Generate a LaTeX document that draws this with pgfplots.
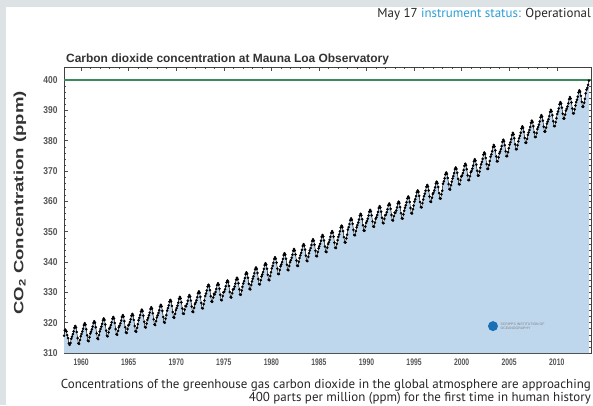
\documentclass[border=0pt]{standalone}
\usepackage{graphicx}
\usepackage{pgfplots}
\pgfplotsset{compat=1.18}
\usepackage{pgfplotstable}
\usepackage{fontspec}
\setmainfont{PT Sans}
\newfontfamily\arial{Liberation Sans}

\definecolor{bggray}{HTML}{DDE2E4}
\definecolor{fillblue}{HTML}{BFD7EC}
\definecolor{limitgreen}{HTML}{3A8A5A}
\definecolor{linkblue}{HTML}{2A9FD6}
\definecolor{labgray}{HTML}{555555}
\definecolor{titlegray}{HTML}{333333}
\definecolor{logoblue}{HTML}{1B6FB5}

% monthly means, Mauna Loa
\pgfplotstableread[row sep=\\]{
t co2\\
1958.21 315.7\\ 1958.29 317.5\\ 1958.38 317.5\\ 1958.46 317.1\\ 1958.54 315.9\\ 1958.63 314.9\\ 1958.71 313.2\\ 1958.79 312.7\\ 1958.88 313.3\\ 1958.96 314.7\\
1959.04 315.4\\ 1959.13 316.2\\ 1959.21 317.1\\ 1959.29 318.3\\ 1959.38 318.9\\ 1959.46 318.4\\ 1959.54 316.9\\ 1959.63 314.9\\ 1959.71 313.2\\ 1959.79 313.0\\ 1959.88 314.3\\ 1959.96 315.5\\
1960.04 316.3\\ 1960.13 317.1\\ 1960.21 318.0\\ 1960.29 319.2\\ 1960.38 319.8\\ 1960.46 319.3\\ 1960.54 317.8\\ 1960.63 315.8\\ 1960.71 314.1\\ 1960.79 313.9\\ 1960.88 315.2\\ 1960.96 316.4\\
1961.04 317.0\\ 1961.13 317.8\\ 1961.21 318.7\\ 1961.29 319.9\\ 1961.38 320.5\\ 1961.46 320.0\\ 1961.54 318.5\\ 1961.63 316.5\\ 1961.71 314.8\\ 1961.79 314.6\\ 1961.88 315.9\\ 1961.96 317.1\\
1962.04 317.9\\ 1962.13 318.7\\ 1962.21 319.6\\ 1962.29 320.8\\ 1962.38 321.4\\ 1962.46 320.9\\ 1962.54 319.4\\ 1962.63 317.4\\ 1962.71 315.7\\ 1962.79 315.5\\ 1962.88 316.8\\ 1962.96 318.0\\
1963.04 318.4\\ 1963.13 319.2\\ 1963.21 320.1\\ 1963.29 321.3\\ 1963.38 321.9\\ 1963.46 321.4\\ 1963.54 319.9\\ 1963.63 317.9\\ 1963.71 316.2\\ 1963.79 316.0\\ 1963.88 317.3\\ 1963.96 318.5\\
1964.04 319.0\\ 1964.13 319.8\\ 1964.21 320.7\\ 1964.29 321.9\\ 1964.38 322.5\\ 1964.46 322.0\\ 1964.54 320.5\\ 1964.63 318.5\\ 1964.71 316.8\\ 1964.79 316.6\\ 1964.88 317.9\\ 1964.96 319.1\\
1965.04 319.4\\ 1965.13 320.2\\ 1965.21 321.1\\ 1965.29 322.3\\ 1965.38 322.9\\ 1965.46 322.4\\ 1965.54 320.9\\ 1965.63 318.9\\ 1965.71 317.2\\ 1965.79 317.0\\ 1965.88 318.3\\ 1965.96 319.5\\
1966.04 320.8\\ 1966.13 321.6\\ 1966.21 322.5\\ 1966.29 323.7\\ 1966.38 324.3\\ 1966.46 323.8\\ 1966.54 322.3\\ 1966.63 320.3\\ 1966.71 318.6\\ 1966.79 318.4\\ 1966.88 319.7\\ 1966.96 320.9\\
1967.04 321.6\\ 1967.13 322.4\\ 1967.21 323.3\\ 1967.29 324.5\\ 1967.38 325.1\\ 1967.46 324.6\\ 1967.54 323.1\\ 1967.63 321.1\\ 1967.71 319.4\\ 1967.79 319.2\\ 1967.88 320.5\\ 1967.96 321.7\\
1968.04 322.4\\ 1968.13 323.2\\ 1968.21 324.1\\ 1968.29 325.3\\ 1968.38 325.9\\ 1968.46 325.4\\ 1968.54 323.9\\ 1968.63 321.9\\ 1968.71 320.2\\ 1968.79 320.0\\ 1968.88 321.3\\ 1968.96 322.5\\
1969.04 324.0\\ 1969.13 324.8\\ 1969.21 325.7\\ 1969.29 326.9\\ 1969.38 327.5\\ 1969.46 327.0\\ 1969.54 325.5\\ 1969.63 323.5\\ 1969.71 321.8\\ 1969.79 321.6\\ 1969.88 322.9\\ 1969.96 324.1\\
1970.04 324.8\\ 1970.13 325.6\\ 1970.21 326.6\\ 1970.29 327.9\\ 1970.38 328.5\\ 1970.46 328.0\\ 1970.54 326.7\\ 1970.63 324.7\\ 1970.71 323.0\\ 1970.79 322.9\\ 1970.88 324.3\\ 1970.96 325.5\\
1971.04 325.4\\ 1971.13 326.2\\ 1971.21 327.2\\ 1971.29 328.5\\ 1971.38 329.1\\ 1971.46 328.6\\ 1971.54 327.3\\ 1971.63 325.3\\ 1971.71 323.6\\ 1971.79 323.5\\ 1971.88 324.9\\ 1971.96 326.1\\
1972.04 326.6\\ 1972.13 327.4\\ 1972.21 328.4\\ 1972.29 329.7\\ 1972.38 330.3\\ 1972.46 329.8\\ 1972.54 328.5\\ 1972.63 326.5\\ 1972.71 324.8\\ 1972.79 324.7\\ 1972.88 326.1\\ 1972.96 327.3\\
1973.04 328.8\\ 1973.13 329.6\\ 1973.21 330.6\\ 1973.29 331.9\\ 1973.38 332.5\\ 1973.46 332.0\\ 1973.54 330.7\\ 1973.63 328.7\\ 1973.71 327.0\\ 1973.79 326.9\\ 1973.88 328.3\\ 1973.96 329.5\\
1974.04 329.3\\ 1974.13 330.1\\ 1974.21 331.1\\ 1974.29 332.4\\ 1974.38 333.0\\ 1974.46 332.5\\ 1974.54 331.2\\ 1974.63 329.2\\ 1974.71 327.5\\ 1974.79 327.4\\ 1974.88 328.8\\ 1974.96 330.0\\
1975.04 330.2\\ 1975.13 331.0\\ 1975.21 332.0\\ 1975.29 333.3\\ 1975.38 333.9\\ 1975.46 333.4\\ 1975.54 332.1\\ 1975.63 330.1\\ 1975.71 328.4\\ 1975.79 328.3\\ 1975.88 329.7\\ 1975.96 330.9\\
1976.04 331.1\\ 1976.13 331.9\\ 1976.21 332.9\\ 1976.29 334.2\\ 1976.38 334.8\\ 1976.46 334.3\\ 1976.54 333.0\\ 1976.63 331.0\\ 1976.71 329.3\\ 1976.79 329.2\\ 1976.88 330.6\\ 1976.96 331.8\\
1977.04 332.9\\ 1977.13 333.7\\ 1977.21 334.7\\ 1977.29 336.0\\ 1977.38 336.6\\ 1977.46 336.1\\ 1977.54 334.8\\ 1977.63 332.8\\ 1977.71 331.1\\ 1977.79 331.0\\ 1977.88 332.4\\ 1977.96 333.6\\
1978.04 334.5\\ 1978.13 335.3\\ 1978.21 336.3\\ 1978.29 337.6\\ 1978.38 338.2\\ 1978.46 337.7\\ 1978.54 336.4\\ 1978.63 334.4\\ 1978.71 332.7\\ 1978.79 332.6\\ 1978.88 334.0\\ 1978.96 335.2\\
1979.04 335.9\\ 1979.13 336.7\\ 1979.21 337.7\\ 1979.29 339.0\\ 1979.38 339.6\\ 1979.46 339.1\\ 1979.54 337.8\\ 1979.63 335.8\\ 1979.71 334.1\\ 1979.79 334.0\\ 1979.88 335.4\\ 1979.96 336.6\\
1980.04 337.9\\ 1980.13 338.7\\ 1980.21 339.7\\ 1980.29 341.0\\ 1980.38 341.6\\ 1980.46 341.1\\ 1980.54 339.8\\ 1980.63 337.8\\ 1980.71 336.1\\ 1980.79 336.0\\ 1980.88 337.4\\ 1980.96 338.6\\
1981.04 339.2\\ 1981.13 340.0\\ 1981.21 341.0\\ 1981.29 342.3\\ 1981.38 342.9\\ 1981.46 342.4\\ 1981.54 341.1\\ 1981.63 339.1\\ 1981.71 337.4\\ 1981.79 337.3\\ 1981.88 338.7\\ 1981.96 339.9\\
1982.04 340.6\\ 1982.13 341.4\\ 1982.21 342.4\\ 1982.29 343.7\\ 1982.38 344.3\\ 1982.46 343.8\\ 1982.54 342.5\\ 1982.63 340.5\\ 1982.71 338.8\\ 1982.79 338.7\\ 1982.88 340.1\\ 1982.96 341.3\\
1983.04 342.2\\ 1983.13 343.0\\ 1983.21 344.0\\ 1983.29 345.3\\ 1983.38 345.9\\ 1983.46 345.4\\ 1983.54 344.1\\ 1983.63 342.1\\ 1983.71 340.4\\ 1983.79 340.3\\ 1983.88 341.7\\ 1983.96 342.9\\
1984.04 343.8\\ 1984.13 344.6\\ 1984.21 345.6\\ 1984.29 346.9\\ 1984.38 347.5\\ 1984.46 347.0\\ 1984.54 345.7\\ 1984.63 343.7\\ 1984.71 342.0\\ 1984.79 341.9\\ 1984.88 343.3\\ 1984.96 344.5\\
1985.04 345.2\\ 1985.13 346.0\\ 1985.21 347.0\\ 1985.29 348.3\\ 1985.38 348.9\\ 1985.46 348.4\\ 1985.54 347.1\\ 1985.63 345.1\\ 1985.71 343.4\\ 1985.79 343.3\\ 1985.88 344.7\\ 1985.96 345.9\\
1986.04 346.5\\ 1986.13 347.3\\ 1986.21 348.3\\ 1986.29 349.6\\ 1986.38 350.2\\ 1986.46 349.7\\ 1986.54 348.4\\ 1986.63 346.4\\ 1986.71 344.7\\ 1986.79 344.6\\ 1986.88 346.0\\ 1986.96 347.2\\
1987.04 348.3\\ 1987.13 349.1\\ 1987.21 350.1\\ 1987.29 351.4\\ 1987.38 352.0\\ 1987.46 351.5\\ 1987.54 350.2\\ 1987.63 348.2\\ 1987.71 346.5\\ 1987.79 346.4\\ 1987.88 347.8\\ 1987.96 349.0\\
1988.04 350.7\\ 1988.13 351.5\\ 1988.21 352.5\\ 1988.29 353.8\\ 1988.38 354.4\\ 1988.46 353.9\\ 1988.54 352.6\\ 1988.63 350.6\\ 1988.71 348.9\\ 1988.79 348.8\\ 1988.88 350.2\\ 1988.96 351.4\\
1989.04 352.2\\ 1989.13 353.0\\ 1989.21 354.0\\ 1989.29 355.3\\ 1989.38 355.9\\ 1989.46 355.4\\ 1989.54 354.1\\ 1989.63 352.1\\ 1989.71 350.4\\ 1989.79 350.3\\ 1989.88 351.7\\ 1989.96 352.9\\
1990.04 353.5\\ 1990.13 354.3\\ 1990.21 355.3\\ 1990.29 356.6\\ 1990.38 357.2\\ 1990.46 356.7\\ 1990.54 355.4\\ 1990.63 353.4\\ 1990.71 351.7\\ 1990.79 351.6\\ 1990.88 353.0\\ 1990.96 354.2\\
1991.04 354.7\\ 1991.13 355.5\\ 1991.21 356.5\\ 1991.29 357.8\\ 1991.38 358.4\\ 1991.46 357.9\\ 1991.54 356.6\\ 1991.63 354.6\\ 1991.71 352.9\\ 1991.79 352.8\\ 1991.88 354.2\\ 1991.96 355.4\\
1992.04 355.6\\ 1992.13 356.4\\ 1992.21 357.4\\ 1992.29 358.7\\ 1992.38 359.3\\ 1992.46 358.8\\ 1992.54 357.5\\ 1992.63 355.5\\ 1992.71 353.8\\ 1992.79 353.7\\ 1992.88 355.1\\ 1992.96 356.3\\
1993.04 356.2\\ 1993.13 357.0\\ 1993.21 358.0\\ 1993.29 359.3\\ 1993.38 359.9\\ 1993.46 359.4\\ 1993.54 358.1\\ 1993.63 356.1\\ 1993.71 354.4\\ 1993.79 354.3\\ 1993.88 355.7\\ 1993.96 356.9\\
1994.04 357.9\\ 1994.13 358.7\\ 1994.21 359.7\\ 1994.29 361.0\\ 1994.38 361.6\\ 1994.46 361.1\\ 1994.54 359.8\\ 1994.63 357.8\\ 1994.71 356.1\\ 1994.79 356.0\\ 1994.88 357.4\\ 1994.96 358.6\\
1995.04 359.9\\ 1995.13 360.7\\ 1995.21 361.7\\ 1995.29 363.0\\ 1995.38 363.6\\ 1995.46 363.1\\ 1995.54 361.8\\ 1995.63 359.8\\ 1995.71 358.1\\ 1995.79 358.0\\ 1995.88 359.4\\ 1995.96 360.6\\
1996.04 361.7\\ 1996.13 362.5\\ 1996.21 363.5\\ 1996.29 364.8\\ 1996.38 365.4\\ 1996.46 364.9\\ 1996.54 363.6\\ 1996.63 361.6\\ 1996.71 359.9\\ 1996.79 359.8\\ 1996.88 361.2\\ 1996.96 362.4\\
1997.04 362.8\\ 1997.13 363.6\\ 1997.21 364.6\\ 1997.29 365.9\\ 1997.38 366.5\\ 1997.46 366.0\\ 1997.54 364.7\\ 1997.63 362.7\\ 1997.71 361.0\\ 1997.79 360.9\\ 1997.88 362.3\\ 1997.96 363.5\\
1998.04 365.8\\ 1998.13 366.6\\ 1998.21 367.6\\ 1998.29 368.9\\ 1998.38 369.5\\ 1998.46 369.0\\ 1998.54 367.7\\ 1998.63 365.7\\ 1998.71 364.0\\ 1998.79 363.9\\ 1998.88 365.3\\ 1998.96 366.5\\
1999.04 367.5\\ 1999.13 368.3\\ 1999.21 369.3\\ 1999.29 370.6\\ 1999.38 371.2\\ 1999.46 370.7\\ 1999.54 369.4\\ 1999.63 367.4\\ 1999.71 365.7\\ 1999.79 365.6\\ 1999.88 367.0\\ 1999.96 368.2\\
2000.04 368.5\\ 2000.13 369.3\\ 2000.21 370.3\\ 2000.29 371.7\\ 2000.38 372.4\\ 2000.46 371.9\\ 2000.54 370.6\\ 2000.63 368.6\\ 2000.71 367.0\\ 2000.79 367.0\\ 2000.88 368.3\\ 2000.96 369.6\\
2001.04 370.0\\ 2001.13 370.8\\ 2001.21 371.8\\ 2001.29 373.2\\ 2001.38 373.9\\ 2001.46 373.4\\ 2001.54 372.1\\ 2001.63 370.1\\ 2001.71 368.5\\ 2001.79 368.5\\ 2001.88 369.8\\ 2001.96 371.1\\
2002.04 372.2\\ 2002.13 373.0\\ 2002.21 374.0\\ 2002.29 375.4\\ 2002.38 376.1\\ 2002.46 375.6\\ 2002.54 374.3\\ 2002.63 372.3\\ 2002.71 370.7\\ 2002.79 370.7\\ 2002.88 372.0\\ 2002.96 373.3\\
2003.04 374.7\\ 2003.13 375.5\\ 2003.21 376.5\\ 2003.29 377.9\\ 2003.38 378.6\\ 2003.46 378.1\\ 2003.54 376.8\\ 2003.63 374.8\\ 2003.71 373.2\\ 2003.79 373.2\\ 2003.88 374.5\\ 2003.96 375.8\\
2004.04 376.4\\ 2004.13 377.2\\ 2004.21 378.2\\ 2004.29 379.6\\ 2004.38 380.3\\ 2004.46 379.8\\ 2004.54 378.5\\ 2004.63 376.5\\ 2004.71 374.9\\ 2004.79 374.9\\ 2004.88 376.2\\ 2004.96 377.5\\
2005.04 378.7\\ 2005.13 379.5\\ 2005.21 380.5\\ 2005.29 381.9\\ 2005.38 382.6\\ 2005.46 382.1\\ 2005.54 380.8\\ 2005.63 378.8\\ 2005.71 377.2\\ 2005.79 377.2\\ 2005.88 378.5\\ 2005.96 379.8\\
2006.04 380.8\\ 2006.13 381.6\\ 2006.21 382.6\\ 2006.29 384.0\\ 2006.38 384.7\\ 2006.46 384.2\\ 2006.54 382.9\\ 2006.63 380.9\\ 2006.71 379.3\\ 2006.79 379.3\\ 2006.88 380.6\\ 2006.96 381.9\\
2007.04 382.7\\ 2007.13 383.5\\ 2007.21 384.5\\ 2007.29 385.9\\ 2007.38 386.6\\ 2007.46 386.1\\ 2007.54 384.8\\ 2007.63 382.8\\ 2007.71 381.2\\ 2007.79 381.2\\ 2007.88 382.5\\ 2007.96 383.8\\
2008.04 384.5\\ 2008.13 385.3\\ 2008.21 386.3\\ 2008.29 387.7\\ 2008.38 388.4\\ 2008.46 387.9\\ 2008.54 386.6\\ 2008.63 384.6\\ 2008.71 383.0\\ 2008.79 383.0\\ 2008.88 384.3\\ 2008.96 385.6\\
2009.04 386.3\\ 2009.13 387.1\\ 2009.21 388.1\\ 2009.29 389.5\\ 2009.38 390.2\\ 2009.46 389.7\\ 2009.54 388.4\\ 2009.63 386.4\\ 2009.71 384.8\\ 2009.79 384.8\\ 2009.88 386.1\\ 2009.96 387.4\\
2010.04 388.8\\ 2010.13 389.6\\ 2010.21 390.6\\ 2010.29 392.0\\ 2010.38 392.7\\ 2010.46 392.2\\ 2010.54 390.9\\ 2010.63 388.9\\ 2010.71 387.3\\ 2010.79 387.3\\ 2010.88 388.6\\ 2010.96 389.9\\
2011.04 390.5\\ 2011.13 391.3\\ 2011.21 392.3\\ 2011.29 393.7\\ 2011.38 394.4\\ 2011.46 393.9\\ 2011.54 392.6\\ 2011.63 390.6\\ 2011.71 389.0\\ 2011.79 389.0\\ 2011.88 390.3\\ 2011.96 391.6\\
2012.04 392.7\\ 2012.13 393.5\\ 2012.21 394.5\\ 2012.29 395.9\\ 2012.38 396.6\\ 2012.46 396.1\\ 2012.54 394.8\\ 2012.63 392.8\\ 2012.71 391.2\\ 2012.79 391.2\\ 2012.88 392.5\\ 2012.96 393.8\\
2013.04 395.6\\ 2013.13 396.8\\ 2013.21 397.4\\ 2013.29 398.4\\ 2013.38 399.8\\
}\co

\begin{document}
\begin{tikzpicture}[x=1bp,y=1bp]
\useasboundingbox (0,0) rectangle (593,405);
\fill[white] (0,0) rectangle (593,405);
\fill[bggray] (0,0) rectangle (6,405);
\fill[bggray] (0,398) rectangle (593,405);

\begin{axis}[
    at={(64bp,52bp)}, anchor=south west,
    scale only axis, width=527bp, height=286bp,
    xmin=1958.2, xmax=2013.6,
    ymin=310, ymax=404.3,
    xtick={1960,1965,...,2010},
    ytick={310,320,...,400},
    minor x tick num=4, minor y tick num=4,
    tick align=inside, xtick pos=both, ytick pos=both,
    major tick length=4bp, minor tick length=2bp,
    axis line style={draw=black!75, line width=0.6pt},
    tick style={draw=black!70, line width=0.5pt},
    /pgf/number format/assume math mode=true,
    /pgf/number format/1000 sep={},
    xticklabel style={font=\arial\bfseries\fontsize{9.5}{11}\selectfont, text=labgray, xscale=0.72, yshift=-2bp},
    yticklabel style={font=\arial\bfseries\fontsize{10}{12}\selectfont, text=labgray, xscale=0.85, xshift=-4bp},
    ]
    \addplot[fill=fillblue, draw=none] table {\co} \closedcycle;
    \addplot[draw=limitgreen, line width=1.2pt] coordinates {(1958.2,400) (2013.6,400)};
    \addplot[black, line width=0.45pt, mark=*, mark size=1.05bp] table {\co};
    % Scripps logo
    \node[circle, fill=logoblue, minimum size=10bp, inner sep=0pt] at (rel axis cs:0.814,0.094) {};
    \node[anchor=west, font=\arial\fontsize{3.5}{4}\selectfont, text=gray, align=left, inner sep=0pt]
        at (rel axis cs:0.828,0.094) {SCRIPPS INSTITUTION OF\\OCEANOGRAPHY};
\end{axis}

\node[rotate=90, inner sep=0pt, font=\arial\bfseries\fontsize{13.5}{15}\selectfont, text=titlegray]
    at (20bp,202bp) {\scalebox{1.38}[1]{CO\textsubscript{2} Concentration (ppm)}};
\node[anchor=base west, inner sep=0pt, font=\arial\bfseries\fontsize{12}{14}\selectfont, text=titlegray]
    at (66bp,342bp) {Carbon dioxide concentration at Mauna Loa Observatory};
\node[anchor=base east, inner sep=0pt, font=\fontsize{13}{15}\selectfont, text=black!85]
    at (591bp,387bp) {May 17 \textcolor{linkblue}{instrument status:} Operational};
\node[anchor=base east, inner sep=0pt, font=\fontsize{13}{15}\selectfont, text=black!85]
    at (591bp,16.5bp) {Concentrations of the greenhouse gas carbon dioxide in the global atmosphere are approaching};
\node[anchor=base east, inner sep=0pt, font=\fontsize{13}{15}\selectfont, text=black!85]
    at (591bp,4bp) {400 parts per million (ppm) for the first time in human history};
\end{tikzpicture}
\end{document}
